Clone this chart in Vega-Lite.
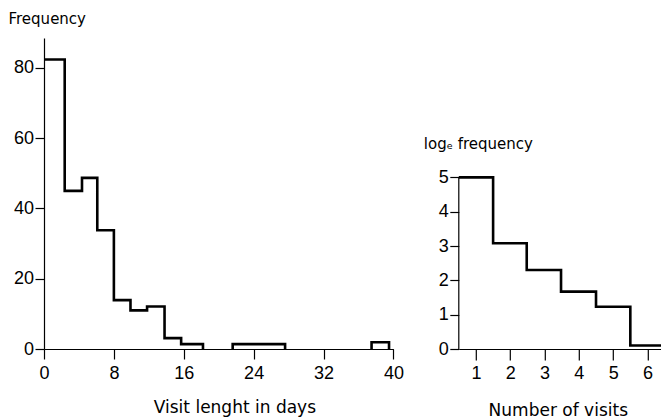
{
  "$schema": "https://vega.github.io/schema/vega-lite/v6.json",
  "background": "white",
  "padding": {"left": 8, "top": 11, "right": 0, "bottom": 0},
  "spacing": 64.8,
  "bounds": "flush",
  "config": {
    "view": {"stroke": null},
    "axis": {
      "grid": false,
      "domainColor": "black",
      "tickColor": "black",
      "labelColor": "black",
      "titleColor": "black",
      "labelFont": "Liberation Sans",
      "labelFontSize": 18,
      "labelFlush": false,
      "labelOverlap": false,
      "titleFont": "DejaVu Sans",
      "titleFontWeight": "normal",
      "domainWidth": 1.2,
      "tickWidth": 1.2
    }
  },
  "hconcat": [
    {
      "width": 349.4,
      "height": 311,
      "data": {
        "values": [
          {"i": 0, "seg": "a", "days": 0, "frequency": 82.4},
          {"i": 1, "seg": "a", "days": 2.37, "frequency": 45},
          {"i": 2, "seg": "a", "days": 4.35, "frequency": 48.7},
          {"i": 3, "seg": "a", "days": 6.1, "frequency": 33.8},
          {"i": 4, "seg": "a", "days": 8.0, "frequency": 13.9},
          {"i": 5, "seg": "a", "days": 9.9, "frequency": 11},
          {"i": 6, "seg": "a", "days": 11.8, "frequency": 12.1},
          {"i": 7, "seg": "a", "days": 13.8, "frequency": 3.1},
          {"i": 8, "seg": "a", "days": 15.7, "frequency": 1.4},
          {"i": 9, "seg": "a", "days": 18.2, "frequency": 0},
          {"i": 10, "seg": "b", "days": 21.6, "frequency": 0},
          {"i": 11, "seg": "b", "days": 21.6, "frequency": 1.4},
          {"i": 12, "seg": "b", "days": 27.6, "frequency": 0},
          {"i": 13, "seg": "c", "days": 37.5, "frequency": 0},
          {"i": 14, "seg": "c", "days": 37.5, "frequency": 1.9},
          {"i": 15, "seg": "c", "days": 39.5, "frequency": 0}
        ]
      },
      "mark": {"type": "line", "interpolate": "step-after", "color": "black", "strokeWidth": 2.6},
      "encoding": {
        "x": {
          "field": "days", "type": "quantitative",
          "scale": {"domain": [0, 40], "nice": false, "zero": false},
          "axis": {
            "values": [0, 8, 16, 24, 32, 40], "tickSize": 10, "labelPadding": 5,
            "title": "Visit lenght in days", "titleFontSize": 17,
            "titleX": 190.4, "titleY": 63.7, "titleAlign": "center", "titleBaseline": "alphabetic"
          }
        },
        "y": {
          "field": "frequency", "type": "quantitative",
          "scale": {"domain": [0, 88.5], "nice": false},
          "axis": {
            "values": [0, 20, 40, 60, 80], "tickSize": 9, "labelPadding": 1.5,
            "title": "Frequency", "titleFontSize": 15, "titleAngle": 0,
            "titleX": -36, "titleY": -15, "titleAlign": "left", "titleBaseline": "alphabetic"
          }
        },
        "detail": {"field": "seg"},
        "order": {"field": "i"}
      }
    },
    {
      "width": 202.4,
      "height": 311,
      "layer": [
        {
          "data": {
            "values": [
              {"i": 0, "visits": 0.5, "logfreq": 5.0},
              {"i": 1, "visits": 1.5, "logfreq": 3.08},
              {"i": 2, "visits": 2.48, "logfreq": 2.3},
              {"i": 3, "visits": 3.48, "logfreq": 1.67},
              {"i": 4, "visits": 4.5, "logfreq": 1.23},
              {"i": 5, "visits": 5.5, "logfreq": 0.1},
              {"i": 6, "visits": 6.4, "logfreq": 0.1}
            ]
          },
          "mark": {"type": "line", "interpolate": "step-after", "color": "black", "strokeWidth": 2.6},
          "encoding": {
            "x": {
              "field": "visits", "type": "quantitative",
              "scale": {"domain": [0.5, 6.4], "nice": false, "zero": false},
              "axis": {
                "values": [1, 2, 3, 4, 5, 6], "tickSize": 11, "labelPadding": 4,
                "title": "Number of visits", "titleFontSize": 17,
                "titleX": 99, "titleY": 66, "titleAlign": "center", "titleBaseline": "alphabetic"
              }
            },
            "y": {
              "field": "logfreq", "type": "quantitative",
              "scale": {"domain": [0, 9.06], "nice": false},
              "axis": {
                "values": [0, 1, 2, 3, 4, 5], "tickSize": 9, "labelPadding": 1.5, "domain": false,
                "title": "logₑ frequency", "titleFontSize": 15, "titleAngle": 0,
                "titleX": -35.5, "titleY": 110.3, "titleAlign": "left", "titleBaseline": "alphabetic"
              }
            },
            "order": {"field": "i"}
          }
        },
        {
          "data": {"values": [{}]},
          "mark": {"type": "rule", "color": "black", "strokeWidth": 1.2},
          "encoding": {
            "x": {"datum": 0.5, "type": "quantitative"},
            "y": {"datum": 0, "type": "quantitative"},
            "y2": {"datum": 5}
          }
        }
      ]
    }
  ]
}
